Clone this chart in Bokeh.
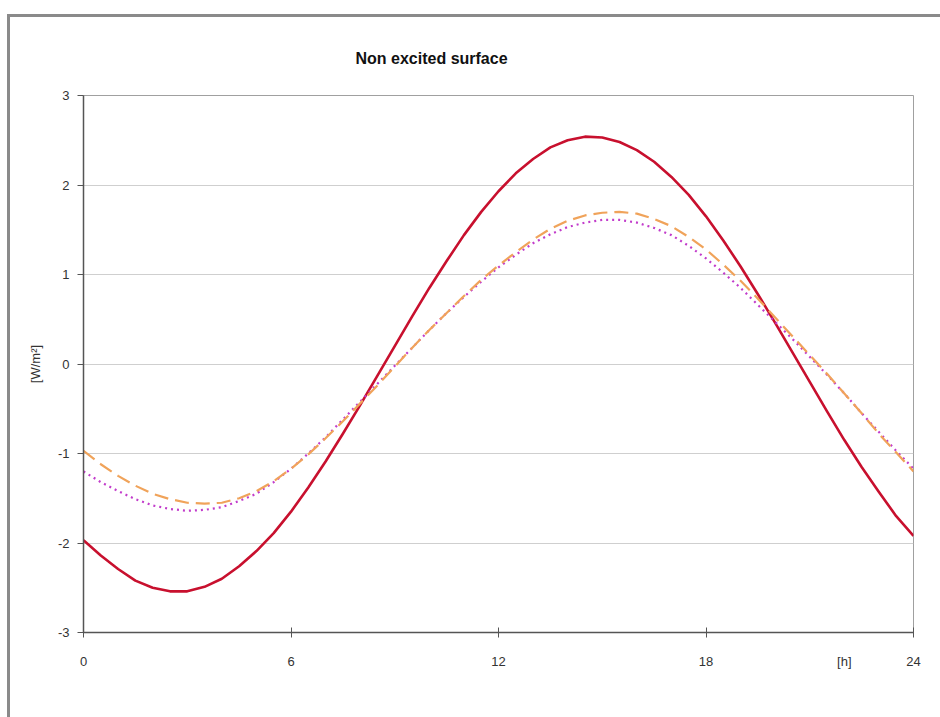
from bokeh.plotting import figure
from bokeh.models import Range1d, Legend, LegendItem, FixedTicker, ColumnDataSource
from bokeh.embed import file_html
from bokeh.resources import INLINE

hours = [0, 0.5, 1, 1.5, 2, 2.5, 3, 3.5, 4, 4.5, 5, 5.5, 6, 6.5, 7, 7.5, 8, 8.5, 9, 9.5, 10, 10.5,
         11, 11.5, 12, 12.5, 13, 13.5, 14, 14.5, 15, 15.5, 16, 16.5, 17, 17.5, 18, 18.5, 19, 19.5,
         20, 20.5, 21, 21.5, 22, 22.5, 23, 23.5, 24]
i_fit = [-1.97, -2.14, -2.29, -2.42, -2.50, -2.54, -2.54, -2.49, -2.40, -2.26, -2.09, -1.89,
         -1.65, -1.38, -1.09, -0.78, -0.46, -0.13, 0.20, 0.53, 0.85, 1.15, 1.44, 1.70,
         1.93, 2.13, 2.29, 2.42, 2.50, 2.54, 2.53, 2.48, 2.39, 2.26, 2.09, 1.89,
         1.65, 1.38, 1.09, 0.78, 0.46, 0.13, -0.20, -0.53, -0.85, -1.15, -1.43, -1.70, -1.92]
iii_fit = [-1.20, -1.32, -1.42, -1.51, -1.58, -1.62, -1.64, -1.63, -1.60, -1.53, -1.45, -1.32,
           -1.17, -1.00, -0.82, -0.62, -0.42, -0.22, -0.02, 0.18, 0.38, 0.57, 0.75, 0.92,
           1.08, 1.22, 1.35, 1.45, 1.53, 1.58, 1.61, 1.61, 1.58, 1.52, 1.44, 1.32,
           1.18, 1.02, 0.85, 0.66, 0.47, 0.28, 0.08, -0.12, -0.33, -0.55, -0.76, -0.97, -1.17]
simulation = [-0.97, -1.12, -1.25, -1.36, -1.45, -1.51, -1.55, -1.56, -1.55, -1.50, -1.42, -1.31,
              -1.17, -1.01, -0.83, -0.64, -0.44, -0.24, -0.03, 0.18, 0.38, 0.57, 0.76, 0.94,
              1.10, 1.25, 1.39, 1.51, 1.60, 1.66, 1.69, 1.70, 1.68, 1.62, 1.54, 1.42,
              1.28, 1.11, 0.93, 0.73, 0.52, 0.31, 0.10, -0.11, -0.33, -0.55, -0.78, -0.99, -1.20]
x_ticks = [0, 6, 12, 18, 24]
x_unit_pos = 22.0
y_ticks = [-3, -2, -1, 0, 1, 2, 3]

src = ColumnDataSource(dict(h=hours, i_fit=i_fit, iii_fit=iii_fit, sim=simulation))

FONT = "Liberation Sans"
p = figure(frame_width=830, frame_height=537, output_backend="svg", toolbar_location=None,
           x_range=Range1d(0, 24), y_range=Range1d(-3, 3),
           min_border_left=83, min_border_right=27, min_border_top=95, min_border_bottom=85)
# outer chart frame (left and top edges) painted behind a transparent border area
p.styles = {"background": ("linear-gradient(#8a8a8a, #8a8a8a) 7px 14px / 3px 100% no-repeat, "
                           "linear-gradient(#8a8a8a, #8a8a8a) 7px 14px / 100% 3px no-repeat, white")}
p.background_fill_color = "white"
p.border_fill_color = None
p.outline_line_color = "#a0a0a0"

p.title.text = "Non excited surface"
p.title.align = "left"
p.title.offset = 272
p.title.standoff = 58
p.title.text_font = FONT
p.title.text_font_size = "16px"
p.title.text_font_style = "bold"
p.title.text_color = "#111111"

# axes: labels from major ticks, tick marks drawn as minor ticks
p.xaxis.ticker = FixedTicker(ticks=x_ticks + [x_unit_pos], minor_ticks=x_ticks)
p.xaxis.major_label_overrides = {x_unit_pos: "[h]"}
p.yaxis.ticker = FixedTicker(ticks=y_ticks)
p.yaxis.major_label_overrides = {t: str(t) for t in y_ticks}
for ax in (p.xaxis[0], p.yaxis[0]):
    ax.axis_line_color = "#555555"
    ax.axis_line_width = 1.5
    ax.major_label_text_font = FONT
    ax.major_label_text_font_size = "13px"
    ax.major_label_text_color = "#333333"
p.xaxis.major_tick_line_color = None
p.xaxis.minor_tick_line_color = "#555555"
p.xaxis.minor_tick_in = 5
p.xaxis.minor_tick_out = 5
p.xaxis.major_tick_in = 0
p.xaxis.major_tick_out = 5
p.xaxis.major_label_standoff = 16
p.yaxis.major_tick_line_color = "#555555"
p.yaxis.minor_tick_line_color = None
p.yaxis.major_tick_in = 0
p.yaxis.major_tick_out = 6
p.yaxis.major_label_standoff = 8
p.yaxis.axis_label = "[W/m²]"
p.yaxis.axis_label_text_font = FONT
p.yaxis.axis_label_text_font_size = "13px"
p.yaxis.axis_label_text_font_style = "normal"
p.yaxis.axis_label_text_color = "#333333"
p.yaxis.axis_label_standoff = 12

p.xgrid.grid_line_color = None
p.ygrid.grid_line_color = "#cfcfcf"
p.ygrid.grid_line_width = 1

r1 = p.line("h", "i_fit", source=src, line_color="#C8102E", line_width=2.6, line_join="round")
r2 = p.line("h", "iii_fit", source=src, line_color="#C23CCB", line_width=2.2, line_dash="2 4")
r3 = p.line("h", "sim", source=src, line_color="#F0A35A", line_width=2.2, line_dash="14 7")

legend = Legend(items=[LegendItem(label="I_fit", renderers=[r1]),
                       LegendItem(label="III_fit", renderers=[r2]),
                       LegendItem(label="Simulation", renderers=[r3])],
                orientation="horizontal", location="top_center",
                label_text_font=FONT, label_text_font_size="15px", label_text_color="#111111",
                glyph_width=55, glyph_height=16, label_height=20, label_standoff=3, spacing=14,
                padding=4, margin=0, border_line_color="#777777", border_line_width=1.5,
                background_fill_color="white", background_fill_alpha=1)
p.add_layout(legend, "below")

open("out.html", "w").write(file_html(p, INLINE))
